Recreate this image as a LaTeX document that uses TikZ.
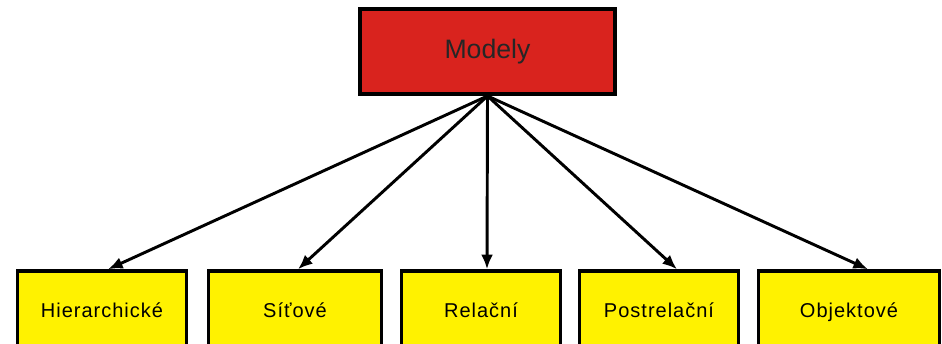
\documentclass[tikz,border=0pt]{standalone}
\usepackage{fontspec}
\setmainfont{Liberation Sans}
\newfontfamily\rozpal[LetterSpace=5]{Liberation Sans}
\usetikzlibrary{arrows.meta}
\definecolor{modelred}{RGB}{217,35,30}
\definecolor{modelyellow}{RGB}{255,242,0}
\tikzset{
  topbox/.style={draw=black, line width=3pt, fill=modelred, minimum width=191.25pt,
    minimum height=63.75pt, inner sep=0pt, text height=11.2pt, text depth=0pt,
    font=\fontsize{20pt}{24pt}\selectfont, text=black!85},
  typbox/.style={draw=black, line width=2.6pt, fill=modelyellow, minimum height=58.5pt,
    inner sep=0pt, text height=10.5pt, text depth=0pt, font=\rozpal\fontsize{15pt}{18pt}\selectfont},
  sipka/.style={line width=2.2pt, -{Latex[length=11pt,width=9pt]}}
}
\begin{document}
\begin{tikzpicture}[x=0.75pt, y=-0.75pt]
    \useasboundingbox (0,0) rectangle (942,343);
    \clip (0,0) rectangle (942,343);

    % Horní uzel
    \node[topbox] (modely) at (487.5,51.5) {Modely};

    % Spodní uzly
    \node[typbox, minimum width=126.75pt] (hier) at (102,310) {Hierarchické};
    \node[typbox, minimum width=129.75pt] (sit)  at (295,310) {Síťové};
    \node[typbox, minimum width=119.25pt] (rel)  at (481,310) {Relační};
    \node[typbox, minimum width=119.25pt] (post) at (659,310) {Postrelační};
    \node[typbox, minimum width=135.75pt] (obj)  at (849,310) {Objektové};

    % Šipky
    \foreach \cil/\posun in {hier/4.5pt, sit/2.25pt, rel/4.5pt, post/13.5pt, obj/14.25pt}
        \draw[sipka] (modely.south) -- ([xshift=\posun]\cil.north);
\end{tikzpicture}
\end{document}
